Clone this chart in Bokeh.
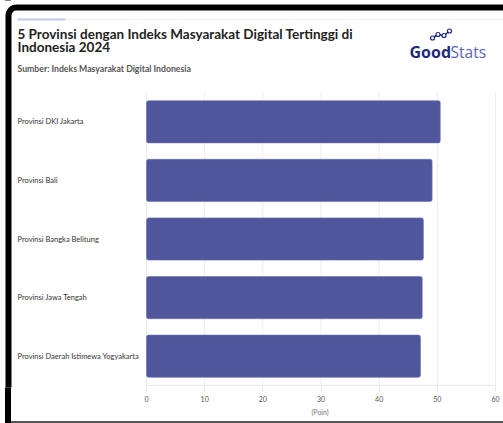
from bokeh.plotting import figure
from bokeh.models import Range1d, FixedTicker, Label, BoxAnnotation, ColumnDataSource, Title
from bokeh.core.properties import value
from bokeh.embed import file_html
from bokeh.resources import INLINE

# ---- data ----
provinces = [
    "Provinsi DKI Jakarta",
    "Provinsi Bali",
    "Provinsi Bangka Belitung",
    "Provinsi Jawa Tengah",
    "Provinsi Daerah Istimewa Yogyakarta",
]
scores = [50.5, 49.1, 47.6, 47.4, 47.1]
x_ticks = [0, 10, 20, 30, 40, 50, 60]

title_line1 = "5 Provinsi dengan Indeks Masyarakat Digital Tertinggi di"
title_line2 = "Indonesia 2024"
subtitle = "Sumber: Indeks Masyarakat Digital Indonesia"
x_label = "(Poin)"

# ---- layout geometry (pixels) ----
W, H = 503, 423
FB = 387            # frame bottom (axis below)
X0_PX, X60_PX = 146, 495
BARS_TOP, BARS_BOT = 92, 385
xs = (X60_PX - X0_PX) / 60.0
n = len(provinces)
ys_ = (BARS_BOT - BARS_TOP) / n
x_start = -X0_PX / xs
x_end = (W - X0_PX) / xs
y_top = n + BARS_TOP / ys_
y_bot = -(FB - BARS_BOT) / ys_


def dx(px):
    return x_start + px / xs


def dy(py):
    return y_top - py / ys_


yc = [n - i - 0.5 for i in range(n)]
src = ColumnDataSource(dict(y=yc, v=scores, name=provinces, lx=[dx(17)] * n))

FONT = "Lato"

bg = ("linear-gradient(#555555,#555555) 11px 100% / calc(100% - 11px) 2px no-repeat, "
      "linear-gradient(#000000,#000000) 5px 0 / 6px 100% no-repeat, #ffffff")

p = figure(width=W, height=H, output_backend="svg", toolbar_location=None,
           x_range=Range1d(x_start, x_end), y_range=Range1d(y_bot, y_top),
           min_border_left=0, min_border_right=0, min_border_top=0,
           min_border_bottom=H - FB, styles={"background": bg})
p.outline_line_color = None
p.background_fill_color = "white"
p.border_fill_color = None
p.yaxis.visible = False
p.ygrid.visible = False
p.xgrid.visible = False

ax = p.xaxis[0]
ax.bounds = (0, 60)
ax.ticker = FixedTicker(ticks=x_ticks)
ax.axis_line_color = None
ax.major_tick_line_color = "#e6e6e6"
ax.major_tick_out = 4
ax.major_tick_in = 0
ax.minor_tick_line_color = None
ax.major_label_text_font = FONT
ax.major_label_text_font_size = "7px"
ax.major_label_text_color = "#555555"
ax.major_label_standoff = 4

p.add_layout(Title(text=x_label, align="left", offset=311, standoff=2,
                   text_font=FONT, text_font_size="7px", text_font_style="normal",
                   text_color="#777777"), "below")

# vertical grid lines at the ticks, spanning the bar area only
p.segment(x0=x_ticks, x1=x_ticks, y0=[y_bot] * len(x_ticks), y1=[n] * len(x_ticks),
          line_color="#ececec", line_width=1)
# baseline
p.segment(x0=[0], x1=[60], y0=[0], y1=[0], line_color="#e8e8e8", line_width=1)

p.hbar(y="y", right="v", left=0, height=0.72, source=src,
       fill_color="#50569b", line_color="#6a6fb0", line_width=0.6, border_radius=2)

p.text(x="lx", y="y", text="name", source=src, text_align="left", text_baseline="middle",
       text_font=value(FONT), text_font_size="7.5px", text_color="#333333")


def lab(text, x, y, size, color, style="normal", baseline="middle", font=FONT):
    p.add_layout(Label(x=dx(x), y=dy(y), text=text,
                       text_font=font, text_font_size=size, text_color=color,
                       text_font_style=style, text_baseline=baseline, text_align="left"))


def box(l, r, t, b, **kw):
    p.add_layout(BoxAnnotation(left=dx(l), right=dx(r), top=dy(t), bottom=dy(b), **kw))


# decorative lines at top
box(17, 503, 18.5, 19.5, fill_color="#f0f0f0", fill_alpha=1, line_color=None)
box(17, 65, 18, 20, fill_color="#c5c8ea", fill_alpha=1, line_color=None)
# frame border (top-left rounded corner)
box(8, 540, 7, 460, fill_color=None, line_color="#000000", line_alpha=1, line_width=6,
    border_radius=8)

lab(title_line1, 17, 33, "13.5px", "#222222", "bold")
lab(title_line2, 17, 46.5, "13.5px", "#222222", "bold")
lab(subtitle, 17, 67.5, "8.7px", "#555555", "bold")

# GoodStats logo
lab("Good", 409, 51, "16px", "#1f2a7c", "bold", baseline="alphabetic", font="Open Sans")
lab("Stats", 450, 51, "15.5px", "#5c62bd", "normal", baseline="alphabetic", font="Open Sans")
icon_px = [(432, 37.5), (437.5, 34), (443.5, 35), (449, 30.5)]
p.line(x=[dx(a) for a, b in icon_px], y=[dy(b) for a, b in icon_px],
       line_color="#1f2a7c", line_width=1.5)
p.scatter(x=[dx(a) for a, b in icon_px], y=[dy(b) for a, b in icon_px], size=4,
          fill_color="white", line_color="#1f2a7c", line_width=1.2)

open("out.html", "w").write(file_html(p, INLINE))
